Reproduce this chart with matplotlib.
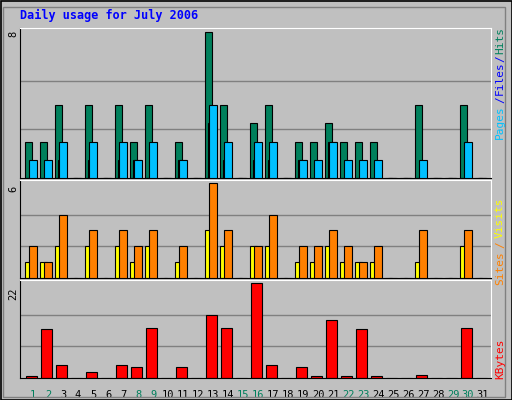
import numpy as np
import matplotlib.pyplot as plt
from matplotlib.patches import Rectangle

days = np.arange(1, 32)
hits = [2, 2, 4, 0, 4, 0, 4, 2, 4, 0, 2, 0, 8, 4, 0, 3, 4, 0, 2, 2, 3, 2, 2, 2, 0, 0, 4, 0, 0, 4, 0]
files = [1, 1, 2, 0, 2, 0, 2, 1, 2, 0, 1, 0, 4, 2, 0, 2, 2, 0, 1, 1, 2, 1, 1, 1, 0, 0, 1, 0, 0, 2, 0]
pages = [0, 0, 1, 0, 1, 0, 1, 1, 0, 0, 1, 0, 3, 1, 0, 1, 1, 0, 1, 0, 2, 0, 0, 0, 0, 0, 0, 0, 0, 0, 0]
visits = [2, 1, 4, 0, 3, 0, 3, 2, 3, 0, 2, 0, 6, 3, 0, 2, 4, 0, 2, 2, 3, 2, 1, 2, 0, 0, 3, 0, 0, 3, 0]
sites = [1, 1, 2, 0, 2, 0, 2, 1, 2, 0, 1, 0, 3, 2, 0, 2, 2, 0, 1, 1, 2, 1, 1, 1, 0, 0, 1, 0, 0, 2, 0]
kbytes = [0.56, 11.4, 3.0, 0, 1.5, 0, 3.0, 2.5, 11.6, 0, 2.5, 0, 14.5, 11.6, 0, 22, 3.0, 0,
          2.5, 0.56, 13.3, 0.56, 11.4, 0.56, 0, 0, 0.8, 0, 0, 11.6, 0]
weekend = [1, 2, 8, 9, 15, 16, 22, 23, 29, 30]
title = "Daily usage for July 2006"

W, H = 512, 400
fig = plt.figure(figsize=(5.12, 4.0), dpi=100, facecolor='#C0C0C0')
mono = 'DejaVu Sans Mono'

# outer frame
fig.patches.append(Rectangle((0.5 / W, 0.5 / H), 1 - 1 / W, 1 - 1 / H, transform=fig.transFigure,
                             fill=False, ec='black', lw=1.2))
fig.patches.append(Rectangle((3 / W, 3 / H), 1 - 10 / W, 1 - 10 / H, transform=fig.transFigure,
                             fill=False, ec='#808080', lw=1))

XMAX = 471 / 15.0  # 15 px per day slot

def panel(top, bottom, vmax):
    ax = fig.add_axes([20 / W, 1 - bottom / H, 471 / W, (bottom - top) / H])
    ax.set_facecolor('#C0C0C0')
    ax.set_xlim(0, XMAX)
    ax.set_ylim(0, vmax * 1.03)
    for f in (1 / 3, 2 / 3):
        ax.axhline(vmax * f, color='#808080', lw=1, zorder=0)
    ax.set_xticks([])
    ax.set_yticks([])
    for s in ('left', 'bottom'):
        ax.spines[s].set_color('black')
    for s in ('top', 'right'):
        ax.spines[s].set_color('white')
    return ax

x0 = days - 1
ax1 = panel(28, 178, 8)
ax1.bar(x0 + 0.33, hits, width=0.5, align='edge', color='#00805C', ec='black', lw=0.8, zorder=2)
ax1.bar(x0 + 0.55, pages, width=0.5, align='edge', color='#0000FF', ec='black', lw=0.8, zorder=3)
ax1.bar(x0 + 0.62, files, width=0.5, align='edge', color='#00C0FF', ec='black', lw=0.8, zorder=4)

ax2 = panel(180, 278, 6)
ax2.bar(x0 + 0.33, sites, width=0.5, align='edge', color='#FFFF00', ec='black', lw=0.8, zorder=2)
ax2.bar(x0 + 0.62, visits, width=0.5, align='edge', color='#FF8000', ec='black', lw=0.8, zorder=3)

ax3 = panel(280, 378, 22)
ax3.bar(x0 + 0.4, kbytes, width=0.7, align='edge', color='#FF0000', ec='black', lw=0.8, zorder=2)

for d in days:
    ax3.text(d - 1 + 0.87, -0.12, str(d), transform=ax3.get_xaxis_transform(), ha='center', va='top',
             fontsize=7.5, family=mono, color='#00805C' if d in weekend else 'black')

fig.text(20 / W, 1 - 15 / H, title, color='#0000FF', family=mono, weight='bold', fontsize=8.5, va='center')

for label, y in (('8', 31), ('6', 186), ('22', 288)):
    fig.text(13 / W, 1 - y / H, label, rotation=90, family=mono, fontsize=7.5, ha='center', va='top')

right = [('Hits', '#00805C', 41), ('/', '#0000FF', 59), ('Files', '#0000FF', 78), ('/', '#0000FF', 100),
         ('Pages', '#00C0FF', 122), ('Visits', '#FFFF00', 218), ('/', '#FF8000', 245),
         ('Sites', '#FF8000', 268), ('KBytes', '#FF0000', 359)]
for label, c, y in right:
    fig.text(500 / W, 1 - y / H, label, rotation=90, family=mono, fontsize=8, color=c,
             ha='center', va='center')

fig.savefig('out.png', dpi=100, facecolor=fig.get_facecolor())
